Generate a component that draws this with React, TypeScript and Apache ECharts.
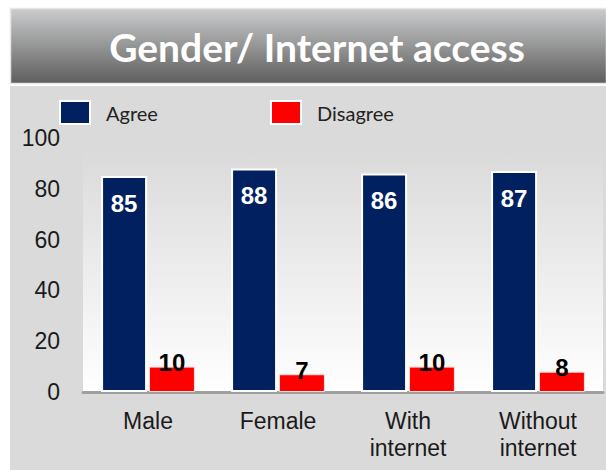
import React, { useEffect, useRef } from "react";
import * as echarts from "echarts";

const categories = ["Male", "Female", "With\ninternet", "Without\ninternet"];
const agree = [85, 88, 86, 87];
const disagree = [10, 7, 10, 8];
const yTicks = { min: 0, max: 100, interval: 20 };
const titleText = "Gender/ Internet access";

export default function App() {
  const ref = useRef<HTMLDivElement>(null);
  useEffect(() => {
    if (!ref.current) return;
    const chart = echarts.init(ref.current, undefined, { renderer: "svg" });
    const legendCommon = {
      top: 100,
      padding: 0,
      itemWidth: 30,
      itemHeight: 23,
      icon: "rect",
      textStyle: { fontFamily: "Lato", fontSize: 20, color: "#222", padding: [0, 0, 0, 11] },
      itemStyle: { borderColor: "#ffffff", borderWidth: 2 },
    };
    chart.setOption({
      animation: false,
      backgroundColor: "#ffffff",
      graphic: [
        {
          type: "rect",
          z: -10,
          shape: { x: 10, y: 86, width: 596, height: 384 },
          style: { fill: "#dadada" },
          silent: true,
        },
        {
          type: "rect",
          z: -9,
          shape: { x: 83, y: 150, width: 520, height: 242 },
          style: {
            fill: new echarts.graphic.LinearGradient(0, 0, 0, 1, [
              { offset: 0, color: "#dadada" },
              { offset: 1, color: "#ffffff" },
            ]),
          },
          silent: true,
        },
        {
          type: "rect",
          z: -8,
          shape: { x: 10.5, y: 8.5, width: 596, height: 75 },
          style: {
            fill: new echarts.graphic.LinearGradient(0, 0, 0, 1, [
              { offset: 0, color: "#cbcccd" },
              { offset: 1, color: "#5e5e5e" },
            ]),
            stroke: "#e6e6e6",
            lineWidth: 1.5,
          },
          silent: true,
        },
        {
          type: "text",
          z: 10,
          x: 317,
          y: 47,
          style: {
            text: titleText,
            fill: "#ffffff",
            fontFamily: "Lato",
            fontWeight: "bold",
            fontSize: 39,
            align: "center",
            verticalAlign: "middle",
          },
          silent: true,
        },
      ],
      legend: [
        { ...legendCommon, left: 59, data: ["Agree"] },
        { ...legendCommon, left: 270, data: ["Disagree"] },
      ],
      grid: { left: 83, right: 3, top: 138, bottom: 78, containLabel: false },
      xAxis: {
        type: "category",
        data: categories,
        axisLine: { show: true, lineStyle: { color: "#a0a0a0", width: 3 } },
        axisTick: { show: false },
        axisLabel: {
          fontFamily: "Liberation Sans, Arial",
          fontSize: 23,
          color: "#1a1a1a",
          margin: 15,
          lineHeight: 27,
          verticalAlign: "top",
          interval: 0,
        },
      },
      yAxis: {
        type: "value",
        min: yTicks.min,
        max: yTicks.max,
        interval: yTicks.interval,
        axisLine: { show: false },
        axisTick: { show: false },
        splitLine: { show: false },
        axisLabel: {
          fontFamily: "Liberation Sans, Arial",
          fontSize: 23,
          color: "#1a1a1a",
          margin: 23,
        },
      },
      series: [
        {
          name: "Agree",
          type: "bar",
          data: agree,
          barWidth: 46,
          barGap: "4%",
          itemStyle: { color: "#002060", borderColor: "#ffffff", borderWidth: 2 },
          label: {
            show: true,
            position: ["50%", 27],
            align: "center",
            verticalAlign: "middle",
            color: "#ffffff",
            fontFamily: "Liberation Sans, Arial",
            fontWeight: "bold",
            fontSize: 24,
          },
        },
        {
          name: "Disagree",
          type: "bar",
          data: disagree,
          barWidth: 46,
          barGap: "4%",
          itemStyle: { color: "#ff0000", borderColor: "#ffdede", borderWidth: 1 },
          label: {
            show: true,
            position: ["50%", -4],
            align: "center",
            verticalAlign: "middle",
            color: "#000000",
            fontFamily: "Liberation Sans, Arial",
            fontWeight: "bold",
            fontSize: 24,
          },
        },
      ],
    });
    return () => chart.dispose();
  }, []);
  return (
    <div
      ref={ref}
      style={{ position: "absolute", left: 0, top: 0, width: 606, height: 470 }}
    />
  );
}
